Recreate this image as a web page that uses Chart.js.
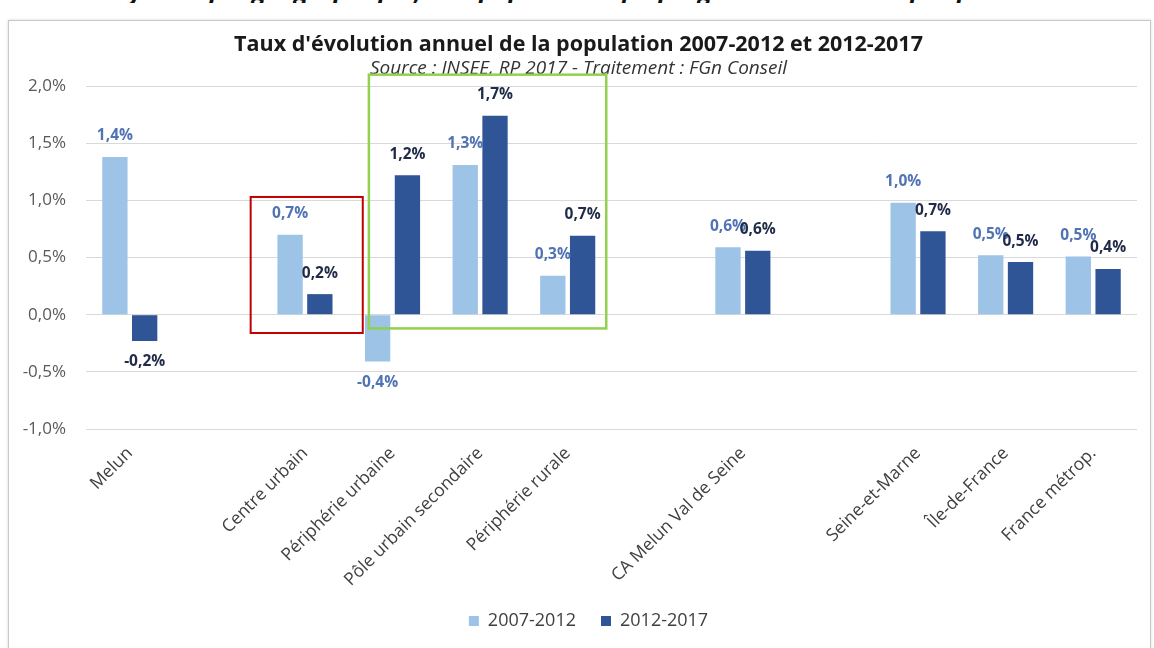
<!DOCTYPE html>
<html lang="fr">
<head>
<meta charset="utf-8">
<script src="https://cdn.jsdelivr.net/npm/chart.js@4.4.1/dist/chart.umd.min.js"></script>
<style>
  html, body { margin: 0; padding: 0; background: #fff; }
  body { width: 1154px; height: 648px; position: relative; overflow: hidden; }
  #heading { position: absolute; left: 112px; top: -23px; width: 1000px; white-space: nowrap; overflow: hidden;
             font: italic bold 25px "Open Sans", sans-serif; line-height: 26px; color: #111; }
  #frame { position: absolute; left: 8px; top: 20px; width: 1141px; height: 660px;
           border: 1px solid #c8c8c8; box-shadow: 0 0 3px rgba(0,0,0,0.15); background: #fff; }
  #chart { position: absolute; left: 0; top: 0; }
</style>
</head>
<body>
<div id="heading">Dynamique géographique, une population qui progresse surtout en périphérie et dans le pôle urbain secondaire de l'agglomération</div>
<div id="frame"></div>
<canvas id="chart" width="1154" height="648"></canvas>
<script>
const categories = ['Melun', '', 'Centre urbain', 'Périphérie urbaine', 'Pôle urbain secondaire', 'Périphérie rurale',
  '', 'CA Melun Val de Seine', '', 'Seine-et-Marne', 'Île-de-France', 'France métrop.'];
const seriesNames = ['2007-2012', '2012-2017'];
const rate0712 = [1.38, null, 0.70, -0.41, 1.31, 0.34, null, 0.59, null, 0.98, 0.52, 0.51];
const rate1217 = [-0.23, null, 0.18, 1.22, 1.74, 0.69, null, 0.56, null, 0.73, 0.46, 0.40];
const yMin = -1, yMax = 2, yStep = 0.5;

const FONT = '"Open Sans", sans-serif';
const colors = ['#9dc3e6', '#2f5597'];
const labelColors = ['#5073b5', '#1f2b47'];

// frames drawn over the chart (category range + value range)
const highlightBoxes = [
  { first: 2, last: 2, padL: 0.62, padR: 0.66, top: 1.03, bottom: -0.16, color: '#c00000', width: 2 },
  { first: 3, last: 5, padL: 0.27, padR: 0.44, top: 2.1, bottom: -0.12, color: '#92d050', width: 2.5 }
];

const fmt = v => v.toFixed(1).replace('.', ',') + '%';

const valueLabels = {
  id: 'valueLabels',
  afterDatasetsDraw(chart) {
    const ctx = chart.ctx;
    ctx.save();
    ctx.font = 'bold 15.5px ' + FONT;
    ctx.textAlign = 'center';
    ctx.textBaseline = 'middle';
    chart.data.datasets.forEach((ds, i) => {
      const meta = chart.getDatasetMeta(i);
      ctx.fillStyle = labelColors[i];
      meta.data.forEach((bar, j) => {
        const v = ds.data[j];
        if (v === null) return;
        const y = v >= 0 ? bar.y - 21 : bar.y + 21;
        ctx.fillText(fmt(v), bar.x, y);
      });
    });
    ctx.restore();
  }
};

const highlights = {
  id: 'highlights',
  afterDraw(chart) {
    const x = chart.scales.x, y = chart.scales.y;
    const cw = x.getPixelForValue(1) - x.getPixelForValue(0);
    const ctx = chart.ctx;
    ctx.save();
    highlightBoxes.forEach(b => {
      const left = x.getPixelForValue(b.first) - b.padL * cw;
      const right = x.getPixelForValue(b.last) + b.padR * cw;
      const top = y.getPixelForValue(b.top);
      const bottom = y.getPixelForValue(b.bottom);
      ctx.strokeStyle = b.color;
      ctx.lineWidth = b.width;
      ctx.strokeRect(left, top, right - left, bottom - top);
    });
    ctx.restore();
  }
};

// nudge the legend a little to the right, like the original
const legendShift = {
  id: 'legendShift',
  afterLayout(chart) {
    chart.legend.left += 10;
    chart.legend.right += 10;
  }
};

new Chart(document.getElementById('chart'), {
  type: 'bar',
  data: {
    labels: categories,
    datasets: [
      { label: seriesNames[0], data: rate0712, backgroundColor: colors[0] },
      { label: seriesNames[1], data: rate1217, backgroundColor: colors[1] }
    ]
  },
  options: {
    responsive: false,
    animation: false,
    datasets: { bar: { categoryPercentage: 0.68, barPercentage: 0.85 } },
    layout: { padding: { left: 20, right: 17, top: 22, bottom: 8 } },
    plugins: {
      title: {
        display: true,
        text: "Taux d'évolution annuel de la population 2007-2012 et 2012-2017",
        color: '#1a1a1a',
        font: { family: FONT, size: 21.5, weight: 'bold' },
        padding: { top: 9.5, bottom: 0 }
      },
      subtitle: {
        display: true,
        text: 'Source : INSEE, RP 2017 - Traitement : FGn Conseil',
        color: '#333',
        font: { family: FONT, size: 19, style: 'italic' },
        padding: { top: 0, bottom: 6 }
      },
      legend: {
        position: 'bottom',
        labels: {
          boxWidth: 10, boxHeight: 10, padding: 25,
          color: '#404040',
          font: { family: FONT, size: 18 }
        }
      },
      tooltip: { enabled: false }
    },
    scales: {
      x: {
        grid: { display: false },
        border: { display: false },
        ticks: {
          autoSkip: false, minRotation: 45, maxRotation: 45, padding: 6,
          color: '#404040', font: { family: FONT, size: 17.5 }
        },
        afterFit(scale) { scale.height = 158; }
      },
      y: {
        min: yMin, max: yMax,
        grid: { color: '#d9d9d9', drawTicks: false },
        border: { display: false },
        ticks: {
          stepSize: yStep, padding: 20,
          color: '#595959', font: { family: FONT, size: 17 },
          callback: v => fmt(v)
        },
        afterFit(scale) { scale.width = 66; }
      }
    }
  },
  plugins: [valueLabels, highlights, legendShift]
});
</script>
</body>
</html>
